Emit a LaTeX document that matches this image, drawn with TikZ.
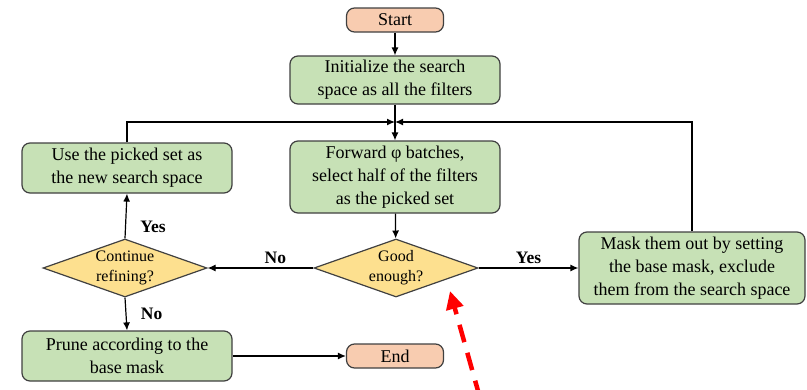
\documentclass[tikz,border=0pt]{standalone}
\usepackage{fontspec}
\setmainfont{Liberation Serif}
\usepackage{xcolor}
\usepackage{tikz}
\usetikzlibrary{shapes.geometric, arrows, arrows.meta}
\definecolor{boxgreen}{RGB}{199,225,182}
\definecolor{boxsalmon}{RGB}{248,204,176}
\definecolor{boxyellow}{RGB}{253,224,143}
\definecolor{edgegray}{RGB}{64,64,64}
\tikzstyle{process} = [draw=edgegray,line width=1.2pt,rounded corners=8pt,fill=boxgreen,align=center,inner sep=2pt,font=\fontsize{18}{23}\selectfont]
\tikzstyle{terminal} = [process,fill=boxsalmon,minimum width=97pt,minimum height=24pt]
\tikzstyle{decision} = [diamond,draw=edgegray,line width=1.2pt,fill=boxyellow,aspect=2.75,inner sep=0pt,minimum width=164pt,minimum height=58pt,align=center,font=\fontsize{16}{20}\selectfont]
\tikzstyle{arrow} = [line width=1.2pt,-{Latex[length=8pt,width=7pt]}]
\tikzstyle{answer} = [font=\bfseries\fontsize{17.5}{20}\selectfont]

\begin{document}
\begin{tikzpicture}[x=1pt,y=-1pt]
	\useasboundingbox (0,0) rectangle (807,389);
	% Nodes:
	\node [terminal] (start) at (395,20) {Start};
	\node [process,minimum width=210pt,minimum height=48pt] (init) at (395,80) {Initialize the search\\space as all the filters};
	\node [process,minimum width=210pt,minimum height=72pt] (forward) at (395,177) {Forward φ batches,\\select half of the filters\\as the picked set};
	\node [decision] (good) at (396,268) {Good\\enough?};
	\node [decision] (refine) at (125,268) {Continue\\refining?};
	\node [process,minimum width=210pt,minimum height=50pt] (use) at (127,168) {Use the picked set as\\the new search space};
	\node [process,minimum width=226pt,minimum height=72pt] (mask) at (692,268) {Mask them out by setting\\the base mask, exclude\\them from the search space};
	\node [process,minimum width=210pt,minimum height=50pt] (prune) at (127,356) {Prune according to the\\base mask};
	\node [terminal] (end) at (395,356) {End};
	% Junction where the two loops come back:
	\coordinate (join) at (395,122);
	\coordinate (hint) at (480,398);

	% Connectors:
	\draw [arrow] (start) -- (init);
	\draw [arrow] (init) -- (forward);
	\draw [arrow] (use.north) |- (join);
	\draw [arrow] (mask.north) |- (join);
	\draw [arrow] (forward) -- (good);
	\draw [arrow] (good.west) -- node [answer,above,pos=0.36] {No} (refine.east);
	\draw [arrow] (good.east) -- node [answer,above] {Yes} (mask.west);
	\draw [arrow] (refine.north) -- node [answer,right,xshift=11pt,pos=0.25] {Yes} (use.south);
	\draw [arrow] (refine.south) -- node [answer,right,xshift=11pt] {No} (prune.north);
	\draw [arrow] (prune.east) -- (end.west);
	% The red pointer:
	\draw [red,line width=4.5pt,dash pattern=on 18pt off 11pt,-{Triangle[length=18pt,width=17pt]}] (hint) -- (450,291);
\end{tikzpicture}
\end{document}
